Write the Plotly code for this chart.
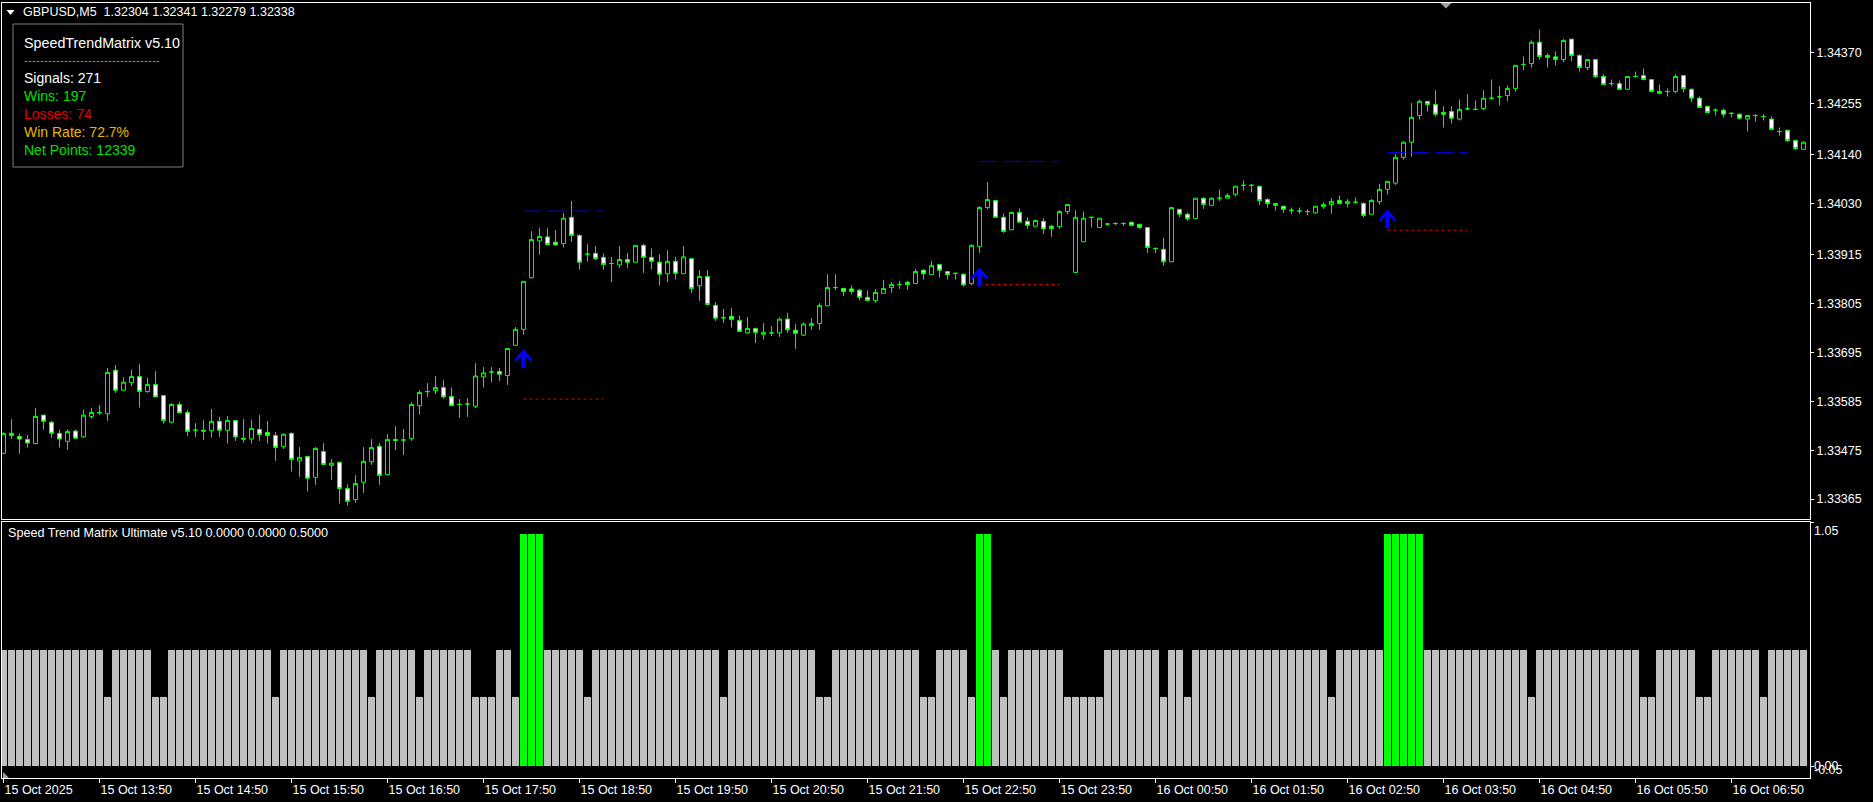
import plotly.graph_objects as go

# ---------------- data ----------------
opens = [
 1.33468, 1.33513, 1.33506, 1.33499, 1.33490, 1.33554, 1.33538, 1.33513, 1.33495, 1.33518,
 1.33505, 1.33551, 1.33559, 1.33557, 1.33655, 1.33610, 1.33627, 1.33641, 1.33607, 1.33623,
 1.33598, 1.33538, 1.33578, 1.33560, 1.33520, 1.33520, 1.33519, 1.33540, 1.33520, 1.33542,
 1.33502, 1.33500, 1.33522, 1.33515, 1.33508, 1.33483, 1.33513, 1.33451, 1.33461, 1.33414,
 1.33472, 1.33441, 1.33448, 1.33389, 1.33364, 1.33403, 1.33449, 1.33484, 1.33420, 1.33499,
 1.33498, 1.33501, 1.33575, 1.33607, 1.33609, 1.33616, 1.33596, 1.33578, 1.33579, 1.33574,
 1.33640, 1.33651, 1.33652, 1.33643, 1.33711, 1.33747, 1.33863, 1.33946, 1.33955, 1.33943,
 1.33940, 1.33999, 1.33958, 1.33916, 1.33918, 1.33909, 1.33895, 1.33892, 1.33904, 1.33898,
 1.33936, 1.33909, 1.33898, 1.33872, 1.33900, 1.33872, 1.33906, 1.33845, 1.33866, 1.33801,
 1.33773, 1.33776, 1.33767, 1.33739, 1.33749, 1.33736, 1.33739, 1.33739, 1.33770, 1.33745,
 1.33734, 1.33755, 1.33760, 1.33800, 1.33841, 1.33839, 1.33838, 1.33835, 1.33819, 1.33812,
 1.33828, 1.33841, 1.33848, 1.33853, 1.33850, 1.33880, 1.33870, 1.33893, 1.33877, 1.33873,
 1.33871, 1.33850, 1.33933, 1.34021, 1.34037, 1.33999, 1.33971, 1.34010, 1.33990, 1.33979,
 1.33990, 1.33979, 1.33978, 1.34012, 1.33875, 1.33944, 1.33999, 1.33976, 1.33984, 1.33985,
 1.33985, 1.33988, 1.33983, 1.33976, 1.33929, 1.33927, 1.33899, 1.34017, 1.34006, 1.33996,
 1.34042, 1.34026, 1.34042, 1.34042, 1.34051, 1.34071, 1.34071, 1.34069, 1.34039, 1.34030,
 1.34024, 1.34015, 1.34013, 1.34012, 1.34009, 1.34023, 1.34028, 1.34037, 1.34030, 1.34033,
 1.34030, 1.34006, 1.34034, 1.34062, 1.34076, 1.34134, 1.34168, 1.34228, 1.34260, 1.34253,
 1.34235, 1.34237, 1.34220, 1.34243, 1.34242, 1.34244, 1.34267, 1.34270, 1.34273, 1.34289,
 1.34343, 1.34345, 1.34393, 1.34363, 1.34360, 1.34354, 1.34400, 1.34363, 1.34336, 1.34354,
 1.34316, 1.34300, 1.34300, 1.34287, 1.34316, 1.34318, 1.34309, 1.34282, 1.34282, 1.34282,
 1.34318, 1.34287, 1.34267, 1.34249, 1.34240, 1.34240, 1.34233, 1.34231, 1.34220, 1.34228,
 1.34226, 1.34220, 1.34192, 1.34195, 1.34172, 1.34152]

highs = [
 1.33515, 1.33545, 1.33513, 1.33509, 1.33570, 1.33554, 1.33541, 1.33521, 1.33522, 1.33522,
 1.33566, 1.33570, 1.33577, 1.33660, 1.33667, 1.33639, 1.33656, 1.33669, 1.33638, 1.33653,
 1.33598, 1.33581, 1.33584, 1.33566, 1.33536, 1.33543, 1.33568, 1.33550, 1.33552, 1.33542,
 1.33545, 1.33543, 1.33554, 1.33541, 1.33516, 1.33513, 1.33515, 1.33482, 1.33461, 1.33482,
 1.33491, 1.33455, 1.33448, 1.33398, 1.33419, 1.33482, 1.33500, 1.33491, 1.33511, 1.33529,
 1.33523, 1.33583, 1.33610, 1.33626, 1.33642, 1.33633, 1.33616, 1.33590, 1.33592, 1.33671,
 1.33662, 1.33662, 1.33660, 1.33704, 1.33752, 1.33855, 1.33968, 1.33975, 1.33975, 1.33970,
 1.34009, 1.34036, 1.33961, 1.33939, 1.33934, 1.33918, 1.33910, 1.33934, 1.33919, 1.33936,
 1.33939, 1.33929, 1.33916, 1.33925, 1.33910, 1.33934, 1.33906, 1.33880, 1.33880, 1.33808,
 1.33793, 1.33795, 1.33778, 1.33775, 1.33749, 1.33761, 1.33754, 1.33773, 1.33784, 1.33759,
 1.33763, 1.33772, 1.33806, 1.33871, 1.33871, 1.33839, 1.33846, 1.33838, 1.33835, 1.33838,
 1.33858, 1.33853, 1.33856, 1.33856, 1.33883, 1.33882, 1.33901, 1.33893, 1.33877, 1.33873,
 1.33873, 1.33938, 1.34024, 1.34078, 1.34037, 1.34008, 1.34010, 1.34019, 1.33999, 1.33994,
 1.33997, 1.33982, 1.34015, 1.34028, 1.34015, 1.34012, 1.33999, 1.33997, 1.33986, 1.33988,
 1.33988, 1.33988, 1.33985, 1.33976, 1.33931, 1.33953, 1.34021, 1.34017, 1.34010, 1.34042,
 1.34044, 1.34044, 1.34062, 1.34053, 1.34069, 1.34082, 1.34074, 1.34069, 1.34042, 1.34030,
 1.34024, 1.34021, 1.34021, 1.34017, 1.34024, 1.34033, 1.34042, 1.34048, 1.34040, 1.34044,
 1.34033, 1.34040, 1.34074, 1.34080, 1.34141, 1.34170, 1.34256, 1.34264, 1.34260, 1.34285,
 1.34249, 1.34249, 1.34264, 1.34276, 1.34262, 1.34285, 1.34309, 1.34294, 1.34296, 1.34341,
 1.34361, 1.34397, 1.34422, 1.34368, 1.34372, 1.34400, 1.34400, 1.34366, 1.34354, 1.34354,
 1.34321, 1.34309, 1.34307, 1.34316, 1.34327, 1.34334, 1.34309, 1.34298, 1.34289, 1.34321,
 1.34318, 1.34289, 1.34271, 1.34249, 1.34244, 1.34244, 1.34235, 1.34233, 1.34228, 1.34231,
 1.34231, 1.34226, 1.34201, 1.34195, 1.34172, 1.34170]

lows = [
 1.33466, 1.33500, 1.33467, 1.33481, 1.33488, 1.33521, 1.33503, 1.33481, 1.33476, 1.33501,
 1.33503, 1.33546, 1.33554, 1.33541, 1.33604, 1.33610, 1.33619, 1.33571, 1.33604, 1.33595,
 1.33535, 1.33536, 1.33559, 1.33507, 1.33505, 1.33498, 1.33503, 1.33505, 1.33490, 1.33496,
 1.33492, 1.33490, 1.33496, 1.33490, 1.33451, 1.33478, 1.33427, 1.33415, 1.33382, 1.33397,
 1.33443, 1.33408, 1.33355, 1.33350, 1.33357, 1.33379, 1.33442, 1.33397, 1.33418, 1.33475,
 1.33464, 1.33496, 1.33555, 1.33595, 1.33601, 1.33591, 1.33575, 1.33548, 1.33550, 1.33570,
 1.33616, 1.33628, 1.33631, 1.33622, 1.33711, 1.33735, 1.33861, 1.33915, 1.33935, 1.33935,
 1.33931, 1.33944, 1.33881, 1.33899, 1.33903, 1.33881, 1.33853, 1.33885, 1.33885, 1.33898,
 1.33874, 1.33882, 1.33845, 1.33853, 1.33859, 1.33872, 1.33829, 1.33811, 1.33803, 1.33766,
 1.33761, 1.33751, 1.33742, 1.33736, 1.33716, 1.33724, 1.33732, 1.33730, 1.33739, 1.33703,
 1.33732, 1.33746, 1.33746, 1.33800, 1.33835, 1.33822, 1.33826, 1.33812, 1.33812, 1.33806,
 1.33828, 1.33829, 1.33838, 1.33836, 1.33850, 1.33859, 1.33870, 1.33863, 1.33859, 1.33859,
 1.33843, 1.33846, 1.33919, 1.34017, 1.33999, 1.33964, 1.33971, 1.33988, 1.33973, 1.33979,
 1.33962, 1.33955, 1.33973, 1.34006, 1.33875, 1.33944, 1.33976, 1.33976, 1.33980, 1.33982,
 1.33980, 1.33979, 1.33973, 1.33919, 1.33919, 1.33890, 1.33899, 1.33999, 1.33991, 1.33996,
 1.34018, 1.34026, 1.34036, 1.34042, 1.34046, 1.34059, 1.34055, 1.34027, 1.34021, 1.34014,
 1.34009, 1.34007, 1.34007, 1.34003, 1.34007, 1.34018, 1.34007, 1.34028, 1.34021, 1.34030,
 1.33999, 1.34006, 1.34028, 1.34050, 1.34072, 1.34129, 1.34136, 1.34219, 1.34237, 1.34226,
 1.34201, 1.34210, 1.34217, 1.34240, 1.34242, 1.34240, 1.34264, 1.34251, 1.34260, 1.34282,
 1.34330, 1.34336, 1.34354, 1.34336, 1.34341, 1.34348, 1.34350, 1.34327, 1.34330, 1.34312,
 1.34298, 1.34294, 1.34285, 1.34287, 1.34314, 1.34309, 1.34280, 1.34276, 1.34271, 1.34278,
 1.34280, 1.34258, 1.34246, 1.34233, 1.34228, 1.34224, 1.34224, 1.34219, 1.34192, 1.34215,
 1.34217, 1.34197, 1.34183, 1.34168, 1.34150, 1.34152]

closes = [
 1.33513, 1.33508, 1.33500, 1.33491, 1.33551, 1.33540, 1.33513, 1.33500, 1.33517, 1.33502,
 1.33554, 1.33560, 1.33560, 1.33650, 1.33610, 1.33628, 1.33641, 1.33607, 1.33623, 1.33595,
 1.33542, 1.33578, 1.33559, 1.33517, 1.33520, 1.33518, 1.33540, 1.33520, 1.33542, 1.33505,
 1.33500, 1.33524, 1.33510, 1.33508, 1.33481, 1.33511, 1.33454, 1.33459, 1.33412, 1.33479,
 1.33443, 1.33446, 1.33389, 1.33360, 1.33400, 1.33450, 1.33481, 1.33418, 1.33499, 1.33497,
 1.33498, 1.33578, 1.33605, 1.33607, 1.33616, 1.33595, 1.33575, 1.33578, 1.33579, 1.33642,
 1.33649, 1.33651, 1.33646, 1.33704, 1.33747, 1.33855, 1.33949, 1.33956, 1.33938, 1.33937,
 1.33997, 1.33958, 1.33898, 1.33916, 1.33906, 1.33893, 1.33895, 1.33904, 1.33898, 1.33936,
 1.33909, 1.33900, 1.33871, 1.33900, 1.33873, 1.33910, 1.33839, 1.33866, 1.33803, 1.33772,
 1.33773, 1.33769, 1.33742, 1.33749, 1.33740, 1.33740, 1.33739, 1.33770, 1.33746, 1.33738,
 1.33759, 1.33760, 1.33801, 1.33841, 1.33841, 1.33832, 1.33832, 1.33819, 1.33812, 1.33830,
 1.33839, 1.33848, 1.33848, 1.33848, 1.33877, 1.33872, 1.33891, 1.33880, 1.33870, 1.33873,
 1.33847, 1.33936, 1.34021, 1.34039, 1.33999, 1.33967, 1.34010, 1.33988, 1.33981, 1.33992,
 1.33973, 1.33974, 1.34012, 1.34028, 1.33999, 1.33997, 1.33999, 1.33997, 1.33984, 1.33985,
 1.33985, 1.33981, 1.33976, 1.33931, 1.33929, 1.33899, 1.34021, 1.34006, 1.33996, 1.34042,
 1.34028, 1.34042, 1.34042, 1.34048, 1.34069, 1.34071, 1.34071, 1.34037, 1.34030, 1.34026,
 1.34017, 1.34015, 1.34013, 1.34012, 1.34024, 1.34028, 1.34035, 1.34030, 1.34035, 1.34033,
 1.34003, 1.34037, 1.34062, 1.34080, 1.34134, 1.34168, 1.34224, 1.34260, 1.34253, 1.34231,
 1.34231, 1.34222, 1.34242, 1.34243, 1.34242, 1.34267, 1.34267, 1.34270, 1.34289, 1.34341,
 1.34343, 1.34393, 1.34361, 1.34359, 1.34354, 1.34397, 1.34363, 1.34336, 1.34354, 1.34316,
 1.34298, 1.34300, 1.34287, 1.34316, 1.34316, 1.34309, 1.34282, 1.34278, 1.34282, 1.34316,
 1.34289, 1.34267, 1.34246, 1.34235, 1.34240, 1.34231, 1.34233, 1.34222, 1.34228, 1.34228,
 1.34226, 1.34197, 1.34192, 1.34172, 1.34154, 1.34168]

# histogram of the sub-window (one value per bar, 12 bars per row = 1 hour)
hist_values = [
 0.5, 0.5, 0.5, 0.5, 0.5, 0.5, 0.5, 0.5, 0.5, 0.5, 0.5, 0.5,
 0.5, 0.3, 0.5, 0.5, 0.5, 0.5, 0.5, 0.3, 0.3, 0.5, 0.5, 0.5,
 0.5, 0.5, 0.5, 0.5, 0.5, 0.5, 0.5, 0.5, 0.5, 0.5, 0.3, 0.5,
 0.5, 0.5, 0.5, 0.5, 0.5, 0.5, 0.5, 0.5, 0.5, 0.5, 0.3, 0.5,
 0.5, 0.5, 0.5, 0.5, 0.3, 0.5, 0.5, 0.5, 0.5, 0.5, 0.5, 0.3,
 0.3, 0.3, 0.5, 0.5, 0.3, 1.0, 1.0, 1.0, 0.5, 0.5, 0.5, 0.5,
 0.5, 0.3, 0.5, 0.5, 0.5, 0.5, 0.5, 0.5, 0.5, 0.5, 0.5, 0.5,
 0.5, 0.5, 0.5, 0.5, 0.5, 0.5, 0.3, 0.5, 0.5, 0.5, 0.5, 0.5,
 0.5, 0.5, 0.5, 0.5, 0.5, 0.5, 0.3, 0.3, 0.5, 0.5, 0.5, 0.5,
 0.5, 0.5, 0.5, 0.5, 0.5, 0.5, 0.5, 0.3, 0.3, 0.5, 0.5, 0.5,
 0.5, 0.3, 1.0, 1.0, 0.5, 0.3, 0.5, 0.5, 0.5, 0.5, 0.5, 0.5,
 0.5, 0.3, 0.3, 0.3, 0.3, 0.3, 0.5, 0.5, 0.5, 0.5, 0.5, 0.5,
 0.5, 0.3, 0.5, 0.5, 0.3, 0.5, 0.5, 0.5, 0.5, 0.5, 0.5, 0.5,
 0.5, 0.5, 0.5, 0.5, 0.5, 0.5, 0.5, 0.5, 0.5, 0.5, 0.3, 0.5,
 0.5, 0.5, 0.5, 0.5, 0.5, 1.0, 1.0, 1.0, 1.0, 1.0, 0.5, 0.5,
 0.5, 0.5, 0.5, 0.5, 0.5, 0.5, 0.5, 0.5, 0.5, 0.5, 0.5, 0.3,
 0.5, 0.5, 0.5, 0.5, 0.5, 0.5, 0.5, 0.5, 0.5, 0.5, 0.5, 0.5,
 0.5, 0.3, 0.3, 0.5, 0.5, 0.5, 0.5, 0.5, 0.3, 0.3, 0.5, 0.5,
 0.5, 0.5, 0.5, 0.5, 0.3, 0.5, 0.5, 0.5, 0.5, 0.5]

time_ticks = [0, 12, 24, 36, 48, 60, 72, 84, 96, 108, 120, 132, 144, 156, 168, 180, 192, 204, 216]
time_labels = ["15 Oct 2025", "15 Oct 13:50", "15 Oct 14:50", "15 Oct 15:50", "15 Oct 16:50",
               "15 Oct 17:50", "15 Oct 18:50", "15 Oct 19:50", "15 Oct 20:50", "15 Oct 21:50",
               "15 Oct 22:50", "15 Oct 23:50", "16 Oct 00:50", "16 Oct 01:50", "16 Oct 02:50",
               "16 Oct 03:50", "16 Oct 04:50", "16 Oct 05:50", "16 Oct 06:50"]
price_ticks = [1.34370, 1.34255, 1.34140, 1.34030, 1.33915, 1.33805, 1.33695, 1.33585, 1.33475, 1.33365]

signal_bars = [65, 122, 173]
tp_levels = [1.34013, 1.34125, 1.34145]
sl_levels = [1.33590, 1.33848, 1.33970]

header_text = "GBPUSD,M5\u00a0\u00a01.32304 1.32341 1.32279 1.32338"
panel_title = "SpeedTrendMatrix v5.10"
stats_lines = ["Signals: 271", "Wins: 197", "Losses: 74", "Win Rate: 72.7%", "Net Points: 12339"]
stats_colors = ["#ffffff", "#00e000", "#e00000", "#e6b800", "#00e000"]
sub_title = "Speed Trend Matrix Ultimate v5.10 0.0000 0.0000 0.5000"
sub_scale = ["1.05", "0.00", "-0.05"]

# ---------------- layout geometry ----------------
W, H = 1873, 802
ML, MR, MT, MB = 2, 63, 3, 24
PW, PH = W - ML - MR, H - MT - MB
FONT = "Liberation Sans, Arial, sans-serif"
FG = "#ffffff"
LINE_LEN = 10  # bars covered by the TP / SL levels
# up-arrow glyph (pixel offsets below the signal bar's low)
ARROW_PATH = ("M0,-14.5 L8,-23.5 L8,-27.5 L2.2,-21.5 L2.2,-33.5 "
              "L-2.2,-33.5 L-2.2,-21.5 L-8,-27.5 L-8,-23.5 Z")


def px(x):
    return (x - ML) / PW


def py(y):
    return (H - MB - y) / PH


idx = list(range(len(opens)))
bar_px = 8.0
x_range = [-(1.5 / bar_px), (PW - 1.5) / bar_px]

fig = go.Figure()

fig.add_trace(go.Candlestick(
    x=idx, open=opens, high=highs, low=lows, close=closes,
    increasing=dict(line=dict(color="#00ff00", width=1), fillcolor="#000000"),
    decreasing=dict(line=dict(color="#00ff00", width=1), fillcolor="#ffffff"),
    whiskerwidth=0, xaxis="x", yaxis="y", showlegend=False, hoverinfo="skip"))

for b, tp, sl in zip(signal_bars, tp_levels, sl_levels):
    fig.add_trace(go.Scatter(x=[b, b + LINE_LEN], y=[tp, tp], mode="lines",
                             line=dict(color="#0000e0", width=1, dash="18px,6px"),
                             xaxis="x", yaxis="y", showlegend=False, hoverinfo="skip"))
    fig.add_trace(go.Scatter(x=[b, b + LINE_LEN], y=[sl, sl], mode="lines",
                             line=dict(color="#e00000", width=1, dash="3px,3px"),
                             xaxis="x", yaxis="y", showlegend=False, hoverinfo="skip"))

bar_colors = ["#00ff00" if v >= 1.0 else "#c0c0c0" for v in hist_values]
fig.add_trace(go.Bar(x=idx, y=hist_values, width=0.86,
                     marker=dict(color=bar_colors, line=dict(width=0)),
                     xaxis="x2", yaxis="y2", showlegend=False, hoverinfo="skip"))

annotations = []
annotations.append(dict(x=px(21), y=py(12.5), xref="paper", yref="paper", text=header_text,
                        showarrow=False, xanchor="left", yanchor="middle",
                        font=dict(family=FONT, size=12.5, color=FG)))
annotations.append(dict(x=px(22), y=py(42.5), xref="paper", yref="paper", text=panel_title,
                        showarrow=False, xanchor="left", yanchor="middle",
                        font=dict(family=FONT, size=14.3, color=FG)))
annotations.append(dict(x=px(22), y=py(60.5), xref="paper", yref="paper",
                        text="-" * 34, showarrow=False, xanchor="left", yanchor="middle",
                        font=dict(family=FONT, size=12, color="#808080")))
for k, (t, c) in enumerate(zip(stats_lines, stats_colors)):
    annotations.append(dict(x=px(22), y=py(77.7 + 18 * k), xref="paper", yref="paper", text=t,
                            showarrow=False, xanchor="left", yanchor="middle",
                            font=dict(family=FONT, size=14, color=c)))
annotations.append(dict(x=px(6), y=py(532.5), xref="paper", yref="paper", text=sub_title,
                        showarrow=False, xanchor="left", yanchor="middle",
                        font=dict(family=FONT, size=12.6, color=FG)))
for lab, yy in zip(sub_scale, [530.5, 766, 770]):
    annotations.append(dict(x=px(1812), y=py(yy), xref="paper", yref="paper", text=lab,
                            showarrow=False, xanchor="left", yanchor="middle",
                            font=dict(family=FONT, size=12.5, color=FG)))

shapes = [
    dict(type="rect", xref="paper", yref="paper", x0=px(13), x1=px(183), y0=py(167), y1=py(24),
         line=dict(color="#808080", width=1), fillcolor="rgba(0,0,0,0)", layer="above"),
    dict(type="path", xref="paper", yref="paper", xsizemode="pixel", ysizemode="pixel",
         xanchor=px(10.5), yanchor=py(12.5), path="M-4,2.5 L4,2.5 L0,-2.5 Z",
         fillcolor=FG, line=dict(width=0)),
    dict(type="path", xref="paper", yref="paper", xsizemode="pixel", ysizemode="pixel",
         xanchor=px(1446), yanchor=1, path="M-5.5,0 L5.5,0 L0,-5.5 Z",
         fillcolor="#a0a0a0", line=dict(width=0)),
    dict(type="path", xref="paper", yref="paper", xsizemode="pixel", ysizemode="pixel",
         xanchor=px(3), yanchor=0, path="M0,0 L0,6 L6,0 Z",
         fillcolor="#a0a0a0", line=dict(width=0)),
]
# signal arrows, anchored to each signal bar's low
for b in signal_bars:
    shapes.append(dict(type="path", xref="x", yref="y", xsizemode="pixel", ysizemode="pixel",
                       xanchor=b, yanchor=lows[b], path=ARROW_PATH,
                       fillcolor="#0000ff", line=dict(width=0), layer="above"))

axis_common = dict(showgrid=False, zeroline=False, showline=True, mirror=True,
                   linecolor=FG, linewidth=1, tickcolor=FG,
                   tickfont=dict(family=FONT, size=12.5, color=FG))

fig.update_layout(
    width=W, height=H, autosize=False,
    margin=dict(l=ML, r=MR, t=MT, b=MB, pad=0),
    paper_bgcolor="#000000", plot_bgcolor="#000000",
    showlegend=False, boxgap=0.5, boxgroupgap=0, bargap=0,
    xaxis=dict(domain=[0, 1], range=x_range, anchor="y", showticklabels=False, ticks="",
               rangeslider=dict(visible=False), **axis_common),
    yaxis=dict(domain=[py(519), 1], range=[1.34488 - 0.0000225 * 519, 1.34488 - 0.0000225 * MT],
               anchor="x", side="right", tickvals=price_ticks,
               ticktext=["%.5f" % v for v in price_ticks], ticks="outside", ticklen=3,
               **axis_common),
    xaxis2=dict(domain=[0, 1], range=x_range, anchor="y2", tickvals=time_ticks,
                ticktext=time_labels, ticks="outside", ticklen=4,
                ticklabelposition="outside right", **axis_common),
    yaxis2=dict(domain=[0, py(522)], range=[-0.05, 1.05], anchor="x2", side="right",
                tickvals=[1.05, 0.0], ticktext=["", ""], ticks="outside", ticklen=3,
                **axis_common),
    annotations=annotations, shapes=shapes,
)

fig.write_html("out.html", config={"displayModeBar": False},
               post_script="document.body.style.margin='0';document.body.style.overflow='hidden';")
